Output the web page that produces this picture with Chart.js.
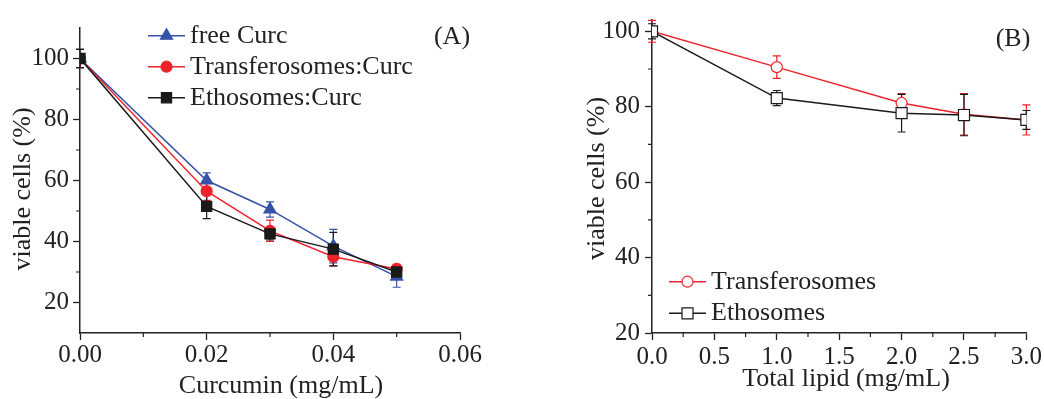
<!DOCTYPE html>
<html>
<head>
<meta charset="utf-8">
<script src="https://cdn.jsdelivr.net/npm/chart.js@4.4.1/dist/chart.umd.min.js"></script>
<style>
  body { margin: 0; background: #fff; }
  .panel { position: absolute; top: 0; width: 522px; height: 399px; }
</style>
</head>
<body>
<div class="panel" style="left:0"><canvas id="chartA"></canvas></div>
<div class="panel" style="left:522px"><canvas id="chartB"></canvas></div>
<script>
// panel A - curcumin concentration
const concA = [0, 0.02, 0.03, 0.04, 0.05];
const freeCurc = [100, 60, 50.5, 38.5, 28.5];
const freeCurcErr = [3, 2.5, 2.5, 5.5, 3.5];
const transCurc = [100, 56.5, 43.5, 35, 31];
const transCurcErr = [3, 3, 3.5, 3, 1.5];
const ethoCurc = [100, 51.5, 42.5, 37.5, 30];
const ethoCurcErr = [3, 4, 2, 5.5, 2];
const xTicksA = [0, 0.02, 0.04, 0.06];
const xMinorA = [0.01, 0.03, 0.05];
const yTicksA = [20, 40, 60, 80, 100];
const yMinorA = [30, 50, 70, 90];

// panel B - total lipid
const lipidB = [0, 1.0, 2.0, 2.5, 3.0];
const transB = [100, 90.5, 81, 78, 76.5];
const transBErr = [2.9, 3, 2.5, 5.5, 4];
const ethoB = [100, 82.3, 78.3, 77.8, 76.5];
const ethoBErr = [2, 2, 5, 5.5, 2.5];
const xTicksB = [0, 0.5, 1.0, 1.5, 2.0, 2.5, 3.0];
const xMinorB = [0.25, 0.75, 1.25, 1.75, 2.25, 2.75];
const yTicksB = [20, 40, 60, 80, 100];
const yMinorB = [30, 50, 70, 90];

const FONT = 'Liberation Serif, Times New Roman, serif';
const INK = '#222';
const BLUE = '#3552a8';
const RED = '#ee2229';
const BLACK = '#1a1a1a';

const toPoints = (xs, ys) => xs.map((x, i) => ({ x, y: ys[i] }));

// error bars, minor ticks, axis titles, legend and panel letter
const extras = {
  id: 'extras',
  beforeDatasetsDraw(chart) {
    const ctx = chart.ctx, xs = chart.scales.x, ys = chart.scales.y;
    chart.data.datasets.forEach(ds => {
      if (!ds.errors) return;
      ctx.save();
      ctx.strokeStyle = ds.borderColor;
      ctx.lineWidth = 1.2;
      ds.data.forEach((p, j) => {
        const px = xs.getPixelForValue(p.x);
        const top = ys.getPixelForValue(p.y + ds.errors[j]);
        const bot = ys.getPixelForValue(p.y - ds.errors[j]);
        ctx.beginPath();
        ctx.moveTo(px, top); ctx.lineTo(px, bot);
        ctx.moveTo(px - 4, top); ctx.lineTo(px + 4, top);
        ctx.moveTo(px - 4, bot); ctx.lineTo(px + 4, bot);
        ctx.stroke();
      });
      ctx.restore();
    });
  },
  afterDraw(chart, args, opts) {
    const ctx = chart.ctx, area = chart.chartArea;
    const xs = chart.scales.x, ys = chart.scales.y;
    ctx.save();
    ctx.strokeStyle = INK;
    ctx.lineWidth = 1.2;
    ctx.beginPath();
    (opts.minorX || []).forEach(v => {
      const px = xs.getPixelForValue(v);
      ctx.moveTo(px, area.bottom); ctx.lineTo(px, area.bottom + 4);
    });
    (opts.minorY || []).forEach(v => {
      const py = ys.getPixelForValue(v);
      ctx.moveTo(area.left, py); ctx.lineTo(area.left - 4, py);
    });
    ctx.stroke();

    // axis titles
    ctx.font = '26px ' + FONT;
    ctx.fillStyle = INK;
    ctx.textAlign = 'center';
    ctx.textBaseline = 'middle';
    ctx.fillText(opts.xTitle.text, opts.xTitle.x, opts.xTitle.y);
    ctx.save();
    ctx.translate(opts.yTitle.x, opts.yTitle.y);
    ctx.rotate(-Math.PI / 2);
    ctx.fillText(opts.yTitle.text, 0, 0);
    ctx.restore();

    const lg = opts.legend;
    ctx.textAlign = 'left';
    chart.data.datasets.forEach((ds, i) => {
      const y = lg.y + i * lg.dy;
      ctx.strokeStyle = ds.borderColor;
      ctx.lineWidth = 1.5;
      ctx.beginPath();
      ctx.moveTo(lg.x, y); ctx.lineTo(lg.x + 37, y);
      ctx.stroke();
      ctx.fillStyle = ds.pointBackgroundColor;
      ctx.strokeStyle = ds.pointBorderColor;
      ctx.lineWidth = ds.pointBorderWidth;
      Chart.helpers.drawPoint(ctx, {
        pointStyle: ds.pointStyle, radius: ds.pointRadius, rotation: 0,
        borderWidth: ds.pointBorderWidth
      }, lg.x + 18.5, y);
      ctx.fillStyle = INK;
      ctx.fillText(ds.label, lg.x + 42, y);
    });

    ctx.textAlign = 'center';
    ctx.fillText(opts.tag.text, opts.tag.x, opts.tag.y);
    ctx.restore();
  }
};

function axisX(ticks, min, max, digits, tickPad) {
  return {
    type: 'linear', min, max,
    afterBuildTicks: s => { s.ticks = ticks.map(v => ({ value: v })); },
    afterFit: s => { s.height = 66; },
    grid: { drawOnChartArea: false, tickLength: 7, tickColor: INK, tickWidth: 1.3 },
    border: { color: INK, width: 1.5 },
    ticks: { font: { family: FONT, size: 25 }, color: INK, padding: tickPad, maxRotation: 0,
             callback: v => Number(v).toFixed(digits) }
  };
}

function axisY(ticks, min, max, width, tickPad) {
  return {
    min, max,
    afterBuildTicks: s => { s.ticks = ticks.map(v => ({ value: v })); },
    afterFit: s => { s.width = width; },
    grid: { drawOnChartArea: false, tickLength: 7, tickColor: INK, tickWidth: 1.3 },
    border: { color: INK, width: 1.5 },
    ticks: { font: { family: FONT, size: 25 }, color: INK, padding: tickPad }
  };
}

function series(label, xs, ys, errs, color, style, radius, fill, order) {
  return {
    label, data: toPoints(xs, ys), errors: errs, order,
    borderColor: color, borderWidth: 1.5, tension: 0,
    pointStyle: style, pointRadius: radius, pointHoverRadius: radius,
    pointBackgroundColor: fill, pointBorderColor: color, pointBorderWidth: 1.2
  };
}

new Chart(document.getElementById('chartA'), {
  type: 'line',
  data: {
    datasets: [
      series('free Curc', concA, freeCurc, freeCurcErr, BLUE, 'triangle', 7, BLUE, 2),
      series('Transferosomes:Curc', concA, transCurc, transCurcErr, RED, 'circle', 5.5, RED, 1),
      series('Ethosomes:Curc', concA, ethoCurc, ethoCurcErr, BLACK, 'rect', 7.2, BLACK, 0)
    ]
  },
  options: {
    responsive: true, maintainAspectRatio: false, animation: false,
    layout: { padding: { left: 0, right: 62, top: 28, bottom: 0 } },
    plugins: {
      legend: { display: false }, tooltip: { enabled: false },
      extras: { minorX: xMinorA, minorY: yMinorA,
                xTitle: { text: 'Curcumin (mg/mL)', x: 281, y: 386 },
                yTitle: { text: 'viable cells (%)', x: 23, y: 189 },
                legend: { x: 148, y: 35.7, dy: 31 },
                tag: { text: '(A)', x: 452, y: 37 } }
    },
    scales: {
      x: axisX(xTicksA, 0, 0.06, 2, 0),
      y: axisY(yTicksA, 10, 110, 80, 4)
    }
  },
  plugins: [extras]
});

new Chart(document.getElementById('chartB'), {
  type: 'line',
  data: {
    datasets: [
      series('Transferosomes', lipidB, transB, transBErr, RED, 'circle', 5.5, '#fff', 1),
      series('Ethosomes', lipidB, ethoB, ethoBErr, BLACK, 'rect', 7.8, '#fff', 0)
    ]
  },
  options: {
    responsive: true, maintainAspectRatio: false, animation: false,
    layout: { padding: { left: 51, right: 16, top: 12.5, bottom: 0 } },
    plugins: {
      legend: { display: false }, tooltip: { enabled: false },
      extras: { minorX: xMinorB, minorY: yMinorB,
                xTitle: { text: 'Total lipid (mg/mL)', x: 324, y: 379 },
                yTitle: { text: 'viable cells (%)', x: 75, y: 178.5 },
                legend: { x: 147, y: 281.7, dy: 31.6 },
                tag: { text: '(B)', x: 491, y: 39 } }
    },
    scales: {
      x: axisX(xTicksB, 0, 3.0, 1, 2),
      y: axisY(yTicksB, 20, 103, 79, 5)
    }
  },
  plugins: [extras]
});
</script>
</body>
</html>
